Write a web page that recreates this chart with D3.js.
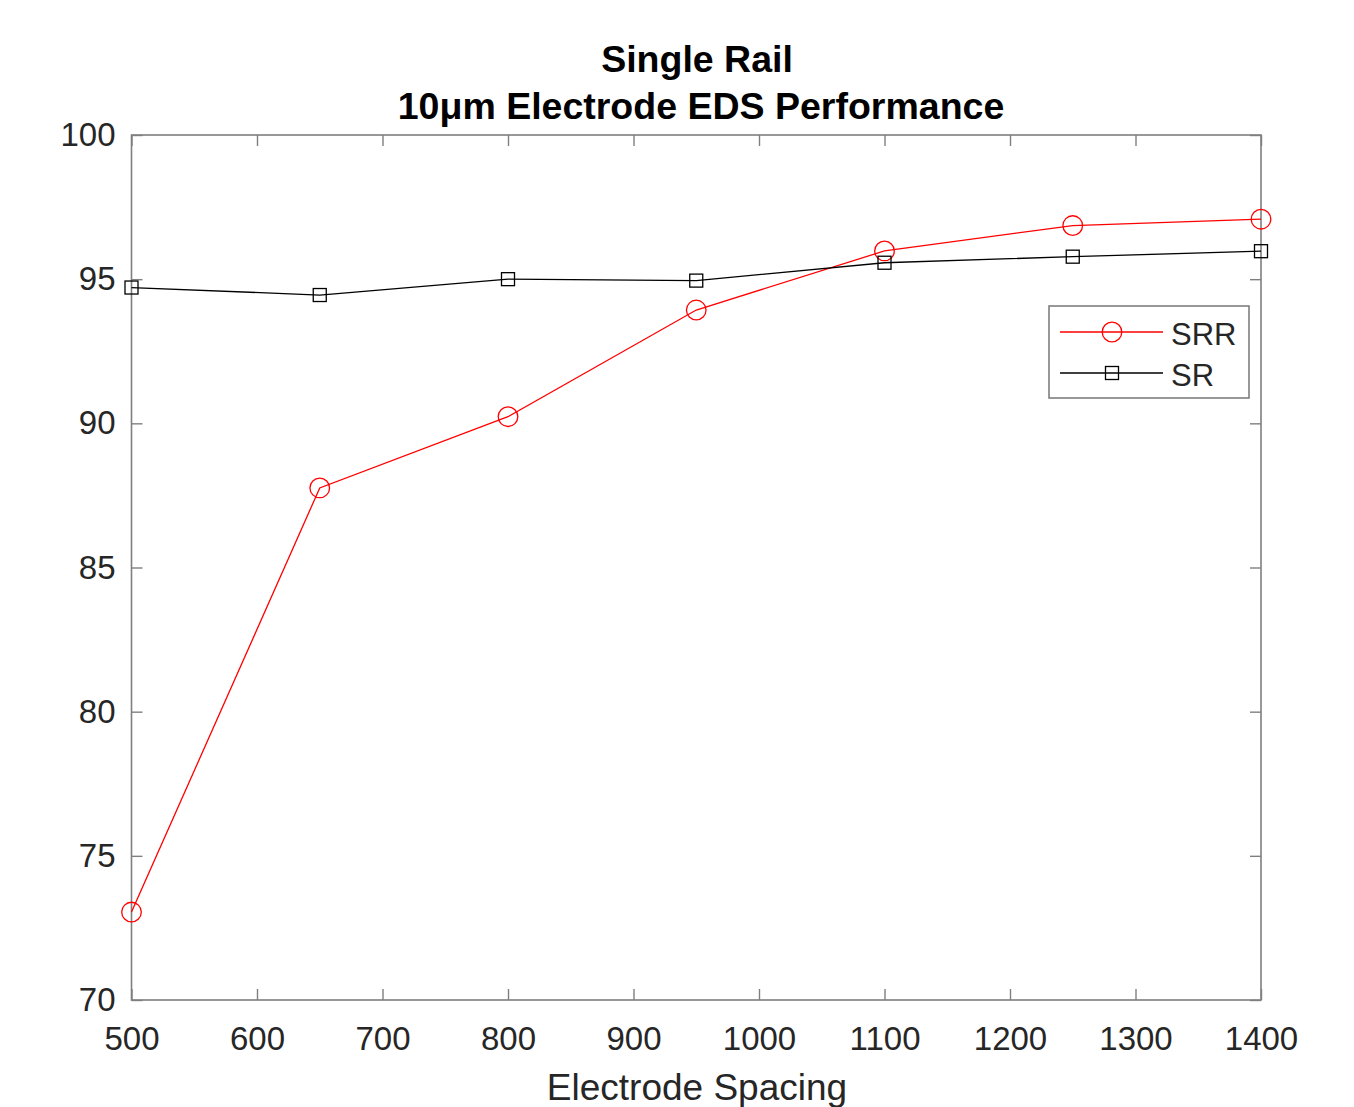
<!DOCTYPE html>
<html>
<head>
<meta charset="utf-8">
<script src="https://cdn.jsdelivr.net/npm/d3@7"></script>
<style>
  body { margin: 0; background: #fff; }
  svg { display: block; font-family: "Liberation Sans", Arial, sans-serif; }
</style>
</head>
<body>
<div class="canvas"></div>
<script>
// data
const spacing = [500, 650, 800, 950, 1100, 1250, 1400];
const srr = [73.05, 87.76, 90.23, 93.93, 95.98, 96.86, 97.08];
const sr = [94.71, 94.45, 95.0, 94.95, 95.57, 95.78, 95.97];
const xTicks = [500, 600, 700, 800, 900, 1000, 1100, 1200, 1300, 1400];
const yTicks = [70, 75, 80, 85, 90, 95, 100];
const seriesNames = ['SRR', 'SR'];

const dims = { width: 1354, height: 1107 };
const plot = { left: 131.5, right: 1261, top: 135, bottom: 1000 };
const axisColor = '#7f7f7f';
const textColor = '#262626';

const svg = d3.select('.canvas')
    .append('svg')
    .attr('width', dims.width)
    .attr('height', dims.height);

const x = d3.scaleLinear().domain([500, 1400]).range([plot.left, plot.right]);
const y = d3.scaleLinear().domain([70, 100]).range([plot.bottom, plot.top]);

// box
svg.append('rect')
    .attr('x', plot.left).attr('y', plot.top)
    .attr('width', plot.right - plot.left)
    .attr('height', plot.bottom - plot.top)
    .attr('fill', 'none')
    .attr('stroke', axisColor)
    .attr('stroke-width', 1.6);

// axes (inner ticks on all four sides)
const tickLen = 11;
const styleAxis = g => {
    g.select('.domain').remove();
    g.selectAll('.tick line').attr('stroke', axisColor).attr('stroke-width', 1.4);
    g.selectAll('.tick text').attr('fill', textColor).attr('font-size', 33);
};

svg.append('g')
    .attr('transform', `translate(0, ${plot.bottom})`)
    .call(d3.axisBottom(x).tickValues(xTicks).tickSize(-tickLen).tickPadding(27).tickFormat(d3.format('d')))
    .call(styleAxis);

svg.append('g')
    .attr('transform', `translate(0, ${plot.top})`)
    .call(d3.axisTop(x).tickValues(xTicks).tickSize(-tickLen).tickFormat(''))
    .call(styleAxis);

svg.append('g')
    .attr('transform', `translate(${plot.left}, 0)`)
    .call(d3.axisLeft(y).tickValues(yTicks).tickSize(-tickLen).tickPadding(16).tickFormat(d3.format('d')))
    .call(styleAxis);

svg.append('g')
    .attr('transform', `translate(${plot.right}, 0)`)
    .call(d3.axisRight(y).tickValues(yTicks).tickSize(-tickLen).tickFormat(''))
    .call(styleAxis);

// titles
svg.append('text')
    .attr('x', 697).attr('y', 72)
    .attr('text-anchor', 'middle')
    .attr('font-size', 37.5).attr('font-weight', 'bold')
    .attr('fill', '#000')
    .text('Single Rail');

svg.append('text')
    .attr('x', 701).attr('y', 119)
    .attr('text-anchor', 'middle')
    .attr('font-size', 37.5).attr('font-weight', 'bold')
    .attr('fill', '#000')
    .text('10μm Electrode EDS Performance');

svg.append('text')
    .attr('x', 697).attr('y', 1100)
    .attr('text-anchor', 'middle')
    .attr('font-size', 37)
    .attr('fill', textColor)
    .text('Electrode Spacing');

// lines
const line = d3.line()
    .x((d, i) => x(spacing[i]))
    .y(d => y(d));

svg.append('path')
    .datum(srr)
    .attr('d', line)
    .attr('fill', 'none')
    .attr('stroke', '#ff0000')
    .attr('stroke-width', 1.3);

svg.append('path')
    .datum(sr)
    .attr('d', line)
    .attr('fill', 'none')
    .attr('stroke', '#000')
    .attr('stroke-width', 1.3);

// markers
svg.append('g').selectAll('circle')
    .data(srr)
    .enter().append('circle')
        .attr('cx', (d, i) => x(spacing[i]))
        .attr('cy', d => y(d))
        .attr('r', 9.8)
        .attr('fill', 'none')
        .attr('stroke', '#ff0000')
        .attr('stroke-width', 1.3);

const sq = 13;
svg.append('g').selectAll('rect')
    .data(sr)
    .enter().append('rect')
        .attr('x', (d, i) => x(spacing[i]) - sq / 2)
        .attr('y', d => y(d) - sq / 2)
        .attr('width', sq).attr('height', sq)
        .attr('fill', 'none')
        .attr('stroke', '#000')
        .attr('stroke-width', 1.3);

// legend
const legend = svg.append('g').attr('transform', 'translate(1049, 306)');
legend.append('rect')
    .attr('width', 200).attr('height', 92)
    .attr('fill', '#fff')
    .attr('stroke', axisColor)
    .attr('stroke-width', 1.6);

const rows = [
    { name: seriesNames[0], color: '#ff0000', marker: 'circle', cy: 26 },
    { name: seriesNames[1], color: '#000', marker: 'square', cy: 67 }
];

rows.forEach(r => {
    legend.append('line')
        .attr('x1', 11).attr('x2', 114)
        .attr('y1', r.cy).attr('y2', r.cy)
        .attr('stroke', r.color).attr('stroke-width', 1.3);
    if (r.marker === 'circle') {
        legend.append('circle')
            .attr('cx', 63).attr('cy', r.cy).attr('r', 9.8)
            .attr('fill', 'none').attr('stroke', r.color).attr('stroke-width', 1.3);
    } else {
        legend.append('rect')
            .attr('x', 63 - sq / 2).attr('y', r.cy - sq / 2)
            .attr('width', sq).attr('height', sq)
            .attr('fill', 'none').attr('stroke', r.color).attr('stroke-width', 1.3);
    }
    legend.append('text')
        .attr('x', 122).attr('y', r.cy + 2)
        .attr('dy', '0.36em')
        .attr('font-size', 31)
        .attr('fill', textColor)
        .text(r.name);
});
</script>
</body>
</html>
